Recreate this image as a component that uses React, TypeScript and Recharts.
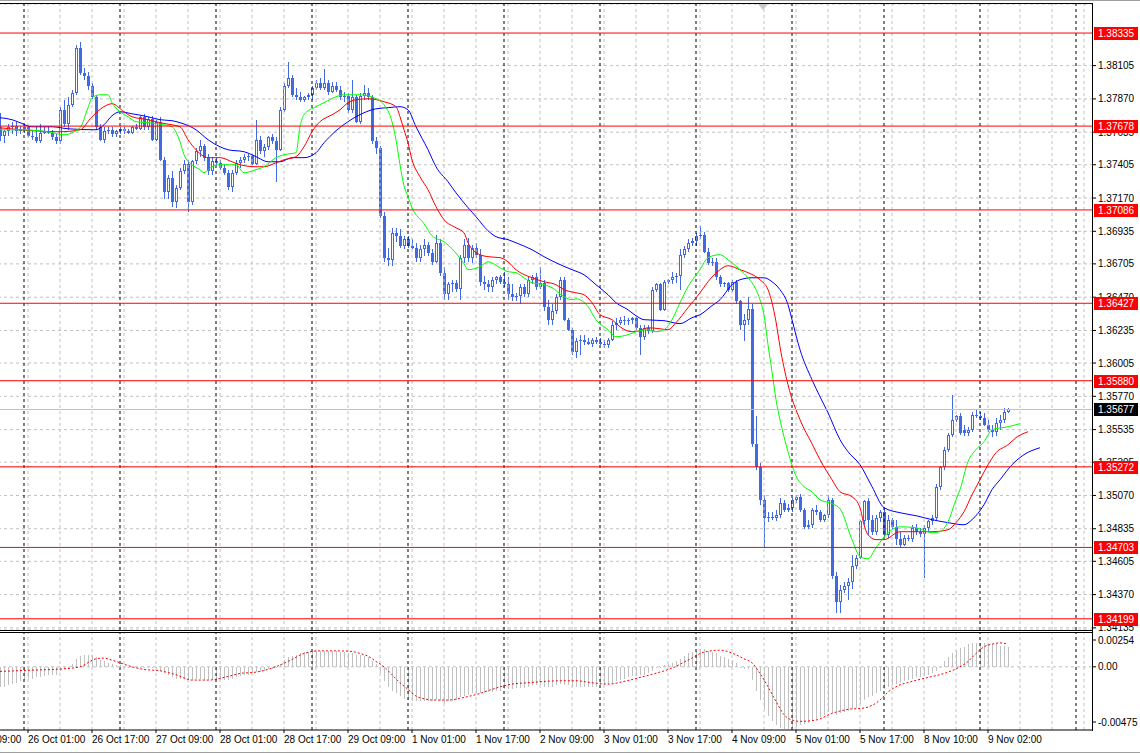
import React from 'react';
import { ComposedChart, Bar, Line, XAxis, YAxis, CartesianGrid, ReferenceLine } from 'recharts';

const FONT = 'Liberation Sans';
const BLUE = '#4169e1';
const AXIS_X = 1092;

// bar index range on the time axis (bars before 0 only carry the first time label)
const FIRST_BAR = -9;
const LAST_BAR = 272;

const timeLabels: [number, string][] = [
  [-9, '25 Oct 09:00'], [7, '26 Oct 01:00'], [23, '26 Oct 17:00'], [39, '27 Oct 09:00'],
  [55, '28 Oct 01:00'], [71, '28 Oct 17:00'], [87, '29 Oct 09:00'], [103, '1 Nov 01:00'],
  [119, '1 Nov 17:00'], [135, '2 Nov 09:00'], [151, '3 Nov 01:00'], [167, '3 Nov 17:00'],
  [183, '4 Nov 09:00'], [199, '5 Nov 01:00'], [215, '5 Nov 17:00'], [231, '8 Nov 10:00'],
  [247, '9 Nov 02:00'],
];
const daySeparators = [6, 30, 54, 78, 102, 126, 150, 174, 198, 221, 245, 269];

const priceTicks = [
  1.38105, 1.3787, 1.37635, 1.37405, 1.3717, 1.36935, 1.36705, 1.3647, 1.36235,
  1.36005, 1.3577, 1.35535, 1.35305, 1.3507, 1.34835, 1.34605, 1.3437, 1.34135,
];
const priceDomain = [1.3412, 1.3854];
const levels = [1.38335, 1.37678, 1.37086, 1.36427, 1.3588, 1.35272, 1.34703, 1.34199];
const lastPrice = 1.35677;
const macdTicks = [0.00254, 0, -0.00475];

// H1 candles: open, high, low, close
const candles: [number, number, number, number][] = [
  [1.3767, 1.3777, 1.3757, 1.3761], [1.3761, 1.3765, 1.3756, 1.3764], [1.3764, 1.3769, 1.3761, 1.3767], [1.3767, 1.3771, 1.3762, 1.3768],
  [1.3768, 1.3771, 1.3761, 1.3764], [1.3764, 1.3768, 1.3762, 1.3766], [1.3766, 1.3769, 1.3763, 1.3767], [1.3767, 1.3768, 1.3760, 1.3761],
  [1.3761, 1.3764, 1.3758, 1.3760], [1.3760, 1.3767, 1.3756, 1.3757], [1.3757, 1.3769, 1.3756, 1.3763], [1.3763, 1.3767, 1.3762, 1.3764],
  [1.3764, 1.3767, 1.3762, 1.3763], [1.3763, 1.3765, 1.3758, 1.3760], [1.3760, 1.3762, 1.3755, 1.3757], [1.3757, 1.3781, 1.3755, 1.3779],
  [1.3779, 1.3786, 1.3767, 1.3769], [1.3769, 1.3788, 1.3765, 1.3783], [1.3783, 1.3793, 1.3781, 1.3791], [1.3791, 1.3825, 1.3790, 1.3823],
  [1.3823, 1.3827, 1.3804, 1.3805], [1.3805, 1.3809, 1.3800, 1.3803], [1.3803, 1.3806, 1.3793, 1.3796], [1.3796, 1.3798, 1.3787, 1.3788],
  [1.3788, 1.3790, 1.3765, 1.3767], [1.3767, 1.3769, 1.3757, 1.3758], [1.3758, 1.3767, 1.3756, 1.3764], [1.3764, 1.3767, 1.3762, 1.3765],
  [1.3765, 1.3767, 1.3760, 1.3762], [1.3762, 1.3765, 1.3760, 1.3764], [1.3764, 1.3767, 1.3762, 1.3766], [1.3766, 1.3767, 1.3762, 1.3764],
  [1.3764, 1.3766, 1.3762, 1.3763], [1.3763, 1.3768, 1.3762, 1.3767], [1.3767, 1.3769, 1.3765, 1.3766], [1.3766, 1.3775, 1.3765, 1.3774],
  [1.3774, 1.3776, 1.3765, 1.3767], [1.3767, 1.3774, 1.3765, 1.3773], [1.3773, 1.3775, 1.3757, 1.3758], [1.3758, 1.3772, 1.3757, 1.3771],
  [1.3771, 1.3774, 1.3743, 1.3744], [1.3744, 1.3746, 1.3716, 1.3721], [1.3721, 1.3733, 1.3716, 1.3731], [1.3731, 1.3736, 1.3711, 1.3714],
  [1.3714, 1.3726, 1.3710, 1.3724], [1.3724, 1.3738, 1.3723, 1.3736], [1.3736, 1.3744, 1.3734, 1.3741], [1.3741, 1.3744, 1.3707, 1.3714],
  [1.3714, 1.3744, 1.3712, 1.3743], [1.3743, 1.3752, 1.3741, 1.3750], [1.3750, 1.3758, 1.3746, 1.3754], [1.3754, 1.3755, 1.3743, 1.3745],
  [1.3745, 1.3748, 1.3733, 1.3736], [1.3736, 1.3746, 1.3733, 1.3743], [1.3743, 1.3746, 1.3740, 1.3742], [1.3742, 1.3744, 1.3737, 1.3738],
  [1.3738, 1.3741, 1.3733, 1.3735], [1.3735, 1.3737, 1.3723, 1.3725], [1.3725, 1.3737, 1.3721, 1.3735], [1.3735, 1.3744, 1.3733, 1.3742],
  [1.3742, 1.3746, 1.3738, 1.3744], [1.3744, 1.3748, 1.3742, 1.3746], [1.3746, 1.3748, 1.3743, 1.3747], [1.3747, 1.3748, 1.3740, 1.3741],
  [1.3741, 1.3772, 1.3740, 1.3758], [1.3758, 1.3761, 1.3748, 1.3750], [1.3750, 1.3755, 1.3746, 1.3753], [1.3753, 1.3761, 1.3751, 1.3760],
  [1.3760, 1.3762, 1.3755, 1.3757], [1.3757, 1.3760, 1.3728, 1.3751], [1.3751, 1.3781, 1.3750, 1.3779], [1.3779, 1.3798, 1.3778, 1.3796],
  [1.3796, 1.3813, 1.3795, 1.3802], [1.3802, 1.3804, 1.3788, 1.3790], [1.3790, 1.3795, 1.3786, 1.3788], [1.3788, 1.3792, 1.3785, 1.3786],
  [1.3786, 1.3789, 1.3785, 1.3788], [1.3788, 1.3791, 1.3786, 1.3790], [1.3790, 1.3796, 1.3786, 1.3795], [1.3795, 1.3800, 1.3793, 1.3798],
  [1.3798, 1.3802, 1.3793, 1.3795], [1.3795, 1.3808, 1.3793, 1.3798], [1.3798, 1.3800, 1.3790, 1.3792], [1.3792, 1.3799, 1.3791, 1.3796],
  [1.3796, 1.3799, 1.3792, 1.3793], [1.3793, 1.3796, 1.3786, 1.3788], [1.3788, 1.3792, 1.3785, 1.3789], [1.3789, 1.3791, 1.3777, 1.3779],
  [1.3779, 1.3800, 1.3777, 1.3788], [1.3788, 1.3790, 1.3770, 1.3771], [1.3771, 1.3791, 1.3769, 1.3789], [1.3789, 1.3797, 1.3786, 1.3791],
  [1.3791, 1.3795, 1.3786, 1.3788], [1.3788, 1.3790, 1.3755, 1.3757], [1.3757, 1.3760, 1.3748, 1.3752], [1.3752, 1.3754, 1.3703, 1.3704],
  [1.3704, 1.3707, 1.3672, 1.3675], [1.3675, 1.3682, 1.3669, 1.3673], [1.3673, 1.3696, 1.3669, 1.3692], [1.3692, 1.3696, 1.3686, 1.3690],
  [1.3690, 1.3695, 1.3682, 1.3683], [1.3683, 1.3690, 1.3681, 1.3688], [1.3688, 1.3690, 1.3682, 1.3683], [1.3683, 1.3688, 1.3681, 1.3682],
  [1.3682, 1.3685, 1.3672, 1.3675], [1.3675, 1.3684, 1.3672, 1.3681], [1.3681, 1.3688, 1.3676, 1.3684], [1.3684, 1.3686, 1.3676, 1.3678],
  [1.3678, 1.3681, 1.3670, 1.3672], [1.3672, 1.3691, 1.3671, 1.3685], [1.3685, 1.3688, 1.3662, 1.3664], [1.3664, 1.3668, 1.3645, 1.3649],
  [1.3649, 1.3658, 1.3645, 1.3656], [1.3656, 1.3659, 1.3651, 1.3657], [1.3657, 1.3659, 1.3651, 1.3653], [1.3653, 1.3677, 1.3645, 1.3675],
  [1.3675, 1.3688, 1.3671, 1.3684], [1.3684, 1.3689, 1.3672, 1.3675], [1.3675, 1.3684, 1.3671, 1.3682], [1.3682, 1.3685, 1.3675, 1.3677],
  [1.3677, 1.3681, 1.3655, 1.3658], [1.3658, 1.3662, 1.3652, 1.3656], [1.3656, 1.3659, 1.3651, 1.3654], [1.3654, 1.3661, 1.3651, 1.3659],
  [1.3659, 1.3662, 1.3656, 1.3661], [1.3661, 1.3663, 1.3656, 1.3658], [1.3658, 1.3665, 1.3654, 1.3656], [1.3656, 1.3661, 1.3645, 1.3649],
  [1.3649, 1.3656, 1.3644, 1.3647], [1.3647, 1.3650, 1.3644, 1.3648], [1.3648, 1.3656, 1.3642, 1.3654], [1.3654, 1.3656, 1.3647, 1.3649],
  [1.3649, 1.3661, 1.3647, 1.3659], [1.3659, 1.3663, 1.3656, 1.3661], [1.3661, 1.3664, 1.3652, 1.3654], [1.3654, 1.3668, 1.3653, 1.3657],
  [1.3657, 1.3659, 1.3637, 1.3640], [1.3640, 1.3645, 1.3627, 1.3631], [1.3631, 1.3642, 1.3627, 1.3637], [1.3637, 1.3649, 1.3635, 1.3647],
  [1.3647, 1.3661, 1.3645, 1.3659], [1.3659, 1.3661, 1.3630, 1.3631], [1.3631, 1.3632, 1.3623, 1.3624], [1.3624, 1.3625, 1.3606, 1.3608],
  [1.3608, 1.3618, 1.3604, 1.3616], [1.3616, 1.3620, 1.3606, 1.3617], [1.3617, 1.3620, 1.3613, 1.3615], [1.3615, 1.3618, 1.3613, 1.3614],
  [1.3614, 1.3618, 1.3612, 1.3617], [1.3617, 1.3619, 1.3614, 1.3615], [1.3615, 1.3618, 1.3613, 1.3614], [1.3614, 1.3617, 1.3611, 1.3613],
  [1.3613, 1.3618, 1.3611, 1.3617], [1.3617, 1.3630, 1.3616, 1.3627], [1.3627, 1.3632, 1.3624, 1.3629], [1.3629, 1.3633, 1.3627, 1.3631],
  [1.3631, 1.3634, 1.3627, 1.3630], [1.3630, 1.3632, 1.3627, 1.3631], [1.3631, 1.3633, 1.3628, 1.3632], [1.3632, 1.3633, 1.3624, 1.3625],
  [1.3625, 1.3627, 1.3606, 1.3619], [1.3619, 1.3627, 1.3617, 1.3625], [1.3625, 1.3627, 1.3621, 1.3623], [1.3623, 1.3654, 1.3622, 1.3652],
  [1.3652, 1.3657, 1.3651, 1.3656], [1.3656, 1.3657, 1.3637, 1.3638], [1.3638, 1.3659, 1.3637, 1.3658], [1.3658, 1.3660, 1.3656, 1.3659],
  [1.3659, 1.3665, 1.3656, 1.3661], [1.3661, 1.3664, 1.3657, 1.3662], [1.3662, 1.3681, 1.3652, 1.3677], [1.3677, 1.3683, 1.3675, 1.3681],
  [1.3681, 1.3688, 1.3679, 1.3685], [1.3685, 1.3689, 1.3683, 1.3687], [1.3687, 1.3692, 1.3683, 1.3690], [1.3690, 1.3697, 1.3688, 1.3691],
  [1.3691, 1.3693, 1.3678, 1.3679], [1.3679, 1.3682, 1.3670, 1.3671], [1.3671, 1.3675, 1.3669, 1.3672], [1.3672, 1.3675, 1.3659, 1.3661],
  [1.3661, 1.3663, 1.3654, 1.3656], [1.3656, 1.3658, 1.3654, 1.3657], [1.3657, 1.3658, 1.3651, 1.3652], [1.3652, 1.3659, 1.3651, 1.3658],
  [1.3658, 1.3659, 1.3642, 1.3644], [1.3644, 1.3645, 1.3624, 1.3627], [1.3627, 1.3635, 1.3616, 1.3631], [1.3631, 1.3647, 1.3627, 1.3639],
  [1.3639, 1.3642, 1.3541, 1.3543], [1.3543, 1.3563, 1.3525, 1.3527], [1.3527, 1.3530, 1.3500, 1.3504], [1.3504, 1.3507, 1.3470, 1.3491],
  [1.3491, 1.3495, 1.3488, 1.3492], [1.3492, 1.3495, 1.3490, 1.3491], [1.3491, 1.3497, 1.3489, 1.3493], [1.3493, 1.3505, 1.3491, 1.3502],
  [1.3502, 1.3504, 1.3495, 1.3497], [1.3497, 1.3501, 1.3495, 1.3498], [1.3498, 1.3505, 1.3495, 1.3504], [1.3504, 1.3507, 1.3502, 1.3506],
  [1.3506, 1.3508, 1.3495, 1.3497], [1.3497, 1.3498, 1.3483, 1.3485], [1.3485, 1.3490, 1.3483, 1.3486], [1.3486, 1.3498, 1.3484, 1.3497],
  [1.3497, 1.3500, 1.3493, 1.3495], [1.3495, 1.3497, 1.3488, 1.3490], [1.3490, 1.3494, 1.3488, 1.3493], [1.3493, 1.3507, 1.3491, 1.3504],
  [1.3504, 1.3505, 1.3448, 1.3450], [1.3450, 1.3453, 1.3424, 1.3432], [1.3432, 1.3444, 1.3424, 1.3440], [1.3440, 1.3446, 1.3438, 1.3443],
  [1.3443, 1.3449, 1.3433, 1.3446], [1.3446, 1.3465, 1.3441, 1.3457], [1.3457, 1.3465, 1.3455, 1.3463], [1.3463, 1.3490, 1.3462, 1.3489],
  [1.3489, 1.3504, 1.3486, 1.3503], [1.3503, 1.3505, 1.3479, 1.3490], [1.3490, 1.3493, 1.3479, 1.3481], [1.3481, 1.3493, 1.3479, 1.3491],
  [1.3491, 1.3497, 1.3488, 1.3495], [1.3495, 1.3498, 1.3478, 1.3479], [1.3479, 1.3493, 1.3477, 1.3490], [1.3490, 1.3491, 1.3483, 1.3485],
  [1.3485, 1.3490, 1.3472, 1.3476], [1.3476, 1.3481, 1.3470, 1.3472], [1.3472, 1.3479, 1.3471, 1.3477], [1.3477, 1.3479, 1.3475, 1.3476],
  [1.3476, 1.3486, 1.3474, 1.3484], [1.3484, 1.3487, 1.3479, 1.3481], [1.3481, 1.3484, 1.3478, 1.3480], [1.3480, 1.3486, 1.3449, 1.3484],
  [1.3484, 1.3490, 1.3482, 1.3489], [1.3489, 1.3493, 1.3486, 1.3491], [1.3491, 1.3515, 1.3490, 1.3513], [1.3513, 1.3528, 1.3511, 1.3527],
  [1.3527, 1.3541, 1.3525, 1.3539], [1.3539, 1.3551, 1.3538, 1.3550], [1.3550, 1.3578, 1.3548, 1.3560], [1.3560, 1.3564, 1.3559, 1.3563],
  [1.3563, 1.3565, 1.3550, 1.3551], [1.3553, 1.3557, 1.3549, 1.3551], [1.3551, 1.3555, 1.3549, 1.3553], [1.3553, 1.3566, 1.3552, 1.3564],
  [1.3564, 1.3568, 1.3562, 1.3563], [1.3563, 1.3566, 1.3560, 1.3562], [1.3562, 1.3565, 1.3556, 1.3557], [1.3557, 1.3560, 1.3552, 1.3553],
  [1.3553, 1.3557, 1.3548, 1.3552], [1.3552, 1.3562, 1.3549, 1.3558], [1.3558, 1.3564, 1.3553, 1.3560], [1.3560, 1.3569, 1.3558, 1.3566],
  [1.3566, 1.3569, 1.3565, 1.35677],
];

// Alligator lines (already shifted), read at sample bars: [bar, price]
const lips: [number, number][] = [
  [0, 1.37652], [5, 1.37652], [12, 1.37638], [16, 1.37617], [20, 1.37666], [22, 1.37808], [23, 1.37878], [25, 1.37899],
  [27, 1.37899], [28, 1.37843], [30, 1.37779], [32, 1.37744], [34, 1.37709], [37, 1.37702], [41, 1.37687], [43, 1.37673],
  [45, 1.37567], [46, 1.37476], [48, 1.37405], [50, 1.3737], [51, 1.37349], [53, 1.37391], [55, 1.37405], [59, 1.37405],
  [61, 1.37349], [64, 1.3737], [66, 1.37391], [69, 1.37455], [71, 1.37476], [74, 1.3749], [75, 1.37673], [76, 1.37758],
  [79, 1.37815], [81, 1.37843], [84, 1.37885], [86, 1.37899], [90, 1.37899], [94, 1.37871], [96, 1.37829], [98, 1.37709],
  [99, 1.37582], [100, 1.37405], [101, 1.37257], [102, 1.37179], [103, 1.37102], [106, 1.36989], [108, 1.36904], [111, 1.36861],
  [113, 1.36812], [116, 1.36706], [117, 1.36664], [120, 1.36685], [122, 1.3672], [125, 1.36678], [127, 1.3665], [129, 1.36643],
  [131, 1.36607], [133, 1.36572], [136, 1.36558], [138, 1.36537], [141, 1.36473], [143, 1.36452], [144, 1.36459], [147, 1.36403],
  [149, 1.36311], [152, 1.3624], [154, 1.36191], [157, 1.36205], [159, 1.36226], [162, 1.3624], [164, 1.36226], [166, 1.3624],
  [168, 1.36311], [170, 1.36431], [172, 1.36544], [175, 1.36664], [177, 1.36749], [180, 1.3677], [182, 1.36734], [185, 1.36664],
  [187, 1.36607], [189, 1.36523], [190, 1.36452], [191, 1.36346], [192, 1.36134], [193, 1.35944], [194, 1.35746], [195, 1.35605],
  [197, 1.35379], [199, 1.35209], [201, 1.35132], [203, 1.35096], [205, 1.3504], [208, 1.35012], [210, 1.34976], [213, 1.34758],
  [215, 1.34638], [217, 1.34623], [219, 1.34701], [222, 1.34807], [225, 1.34849], [229, 1.34842], [233, 1.34807], [235, 1.34814],
  [237, 1.34885], [239, 1.3504], [240, 1.35111], [242, 1.35308], [244, 1.35393], [246, 1.35449], [248, 1.35534], [252, 1.35555],
  [255, 1.35577],
];
const teeth: [number, number][] = [
  [0, 1.37666], [5, 1.37652], [15, 1.37638], [20, 1.37652], [23, 1.37744], [26, 1.37815], [28, 1.37836], [31, 1.37779],
  [33, 1.37744], [37, 1.37723], [40, 1.37702], [43, 1.37687], [45, 1.37673], [47, 1.37582], [49, 1.37511], [52, 1.37455],
  [55, 1.37455], [58, 1.37426], [60, 1.37405], [64, 1.37391], [66, 1.37391], [69, 1.37419], [71, 1.3744], [74, 1.37462],
  [76, 1.37532], [78, 1.37638], [80, 1.37709], [83, 1.37758], [85, 1.37793], [87, 1.37843], [89, 1.37864], [92, 1.37871],
  [96, 1.3785], [99, 1.37815], [100, 1.37744], [101, 1.37652], [102, 1.3756], [103, 1.3744], [105, 1.3732], [107, 1.37229],
  [109, 1.37109], [111, 1.37017], [114, 1.3696], [116, 1.36925], [117, 1.36854], [120, 1.3677], [122, 1.36756], [125, 1.36749],
  [127, 1.3672], [129, 1.36664], [133, 1.36607], [136, 1.36579], [139, 1.36558], [141, 1.36523], [144, 1.36501], [146, 1.36487],
  [148, 1.36431], [150, 1.36346], [153, 1.36311], [155, 1.36261], [158, 1.36226], [160, 1.36233], [162, 1.36254], [165, 1.36247],
  [167, 1.3624], [169, 1.3629], [172, 1.36396], [175, 1.36501], [177, 1.36579], [180, 1.36664], [182, 1.36692], [185, 1.36664],
  [187, 1.36643], [190, 1.36593], [192, 1.36523], [194, 1.36297], [195, 1.3612], [197, 1.35852], [200, 1.35605], [203, 1.35435],
  [205, 1.35322], [208, 1.35181], [210, 1.35096], [213, 1.35061], [215, 1.34984], [216, 1.34863], [217, 1.34793], [219, 1.34758],
  [221, 1.34758], [225, 1.34814], [229, 1.34814], [233, 1.34814], [237, 1.34828], [239, 1.34878], [241, 1.34955], [243, 1.35075],
  [245, 1.35181], [247, 1.35287], [249, 1.35372], [252, 1.35428], [254, 1.35478], [257, 1.3552],
];
const jaw: [number, number][] = [
  [0, 1.37737], [3, 1.37723], [5, 1.37702], [8, 1.37673], [13, 1.37673], [17, 1.37659], [24, 1.37652], [26, 1.37687],
  [28, 1.37751], [30, 1.37779], [33, 1.37765], [37, 1.37744], [40, 1.37723], [43, 1.37716], [45, 1.37702], [49, 1.37652],
  [52, 1.37582], [55, 1.37532], [57, 1.37511], [61, 1.37497], [64, 1.37462], [67, 1.37426], [70, 1.37426], [73, 1.37455],
  [76, 1.37455], [79, 1.3749], [81, 1.3756], [84, 1.37645], [87, 1.37709], [91, 1.37772], [94, 1.378], [97, 1.37808],
  [100, 1.37815], [102, 1.37793], [104, 1.37673], [107, 1.37511], [109, 1.37391], [112, 1.37285], [114, 1.37207], [117, 1.37102],
  [119, 1.37038], [122, 1.36939], [124, 1.36897], [127, 1.36876], [129, 1.36854], [133, 1.36805], [136, 1.36756], [139, 1.36713],
  [143, 1.36664], [146, 1.36628], [149, 1.36558], [152, 1.36487], [154, 1.36431], [157, 1.36381], [159, 1.36339], [161, 1.36311],
  [166, 1.36304], [170, 1.36283], [173, 1.36325], [175, 1.36346], [178, 1.3641], [180, 1.36452], [183, 1.36558], [185, 1.36593],
  [188, 1.36607], [191, 1.36607], [193, 1.36579], [195, 1.36523], [197, 1.36417], [198, 1.36311], [200, 1.36099], [203, 1.35887],
  [205, 1.35767], [207, 1.35654], [210, 1.35464], [212, 1.35379], [215, 1.35287], [218, 1.35132], [221, 1.34984], [225, 1.34948],
  [229, 1.34927], [233, 1.34899], [237, 1.34878], [241, 1.34863], [243, 1.34899], [246, 1.35005], [248, 1.35111], [250, 1.35181],
  [253, 1.35287], [256, 1.35358], [260, 1.35407],
];

// MACD main (histogram), one value per candle
const macdMain = [
  -0.00015, -0.00015, -0.00014, -0.00013, -0.00012, -0.00011, -0.0001, -0.00009, -0.00009, -0.00008,
  -0.00008, -0.00007, -0.00006, -0.00006, -0.00006, -0.00003, -0.00002, 0, 0.00002, 0.00006,
  0.00008, 0.00009, 0.00009, 0.00009, 0.00007, 0.00005, 0.00004, 0.00003, 0.00002, 0.00001,
  0.00001, 0, 0, -0.00001, -0.00001, 0, 0, 0, -0.00001, -0.00001,
  -0.00003, -0.00005, -0.00006, -0.00008, -0.00009, -0.00009, -0.00009, -0.0001, -0.0001, -0.00009,
  -0.00009, -0.0001, -0.0001, -0.0001, -0.0001, -0.0001, -0.0001, -0.0001, -0.00009, -0.00008,
  -0.00007, -0.00006, -0.00006, -0.00005, -0.00004, -0.00004, -0.00003, -0.00002, -0.00002, -0.00001,
  0.00002, 0.00005, 0.00007, 0.00008, 0.00009, 0.0001, 0.00011, 0.00011, 0.00012, 0.00012,
  0.00012, 0.00012, 0.00012, 0.00012, 0.00012, 0.00011, 0.00011, 0.0001, 0.0001, 0.00009,
  0.00009, 0.00008, 0.00007, 0.00004, 0.00002, -0.00005, -0.00011, -0.00015, -0.00018, -0.0002,
  -0.00022, -0.00024, -0.00025, -0.00026, -0.00026, -0.00026, -0.00026, -0.00026, -0.00026, -0.00025,
  -0.00026, -0.00027, -0.00026, -0.00026, -0.00025, -0.00023, -0.00022, -0.00021, -0.0002, -0.0002,
  -0.0002, -0.0002, -0.00019, -0.00019, -0.00018, -0.00018, -0.00017, -0.00017, -0.00017, -0.00016,
  -0.00016, -0.00016, -0.00015, -0.00014, -0.00014, -0.00014, -0.00015, -0.00015, -0.00015, -0.00014,
  -0.00013, -0.00014, -0.00014, -0.00015, -0.00015, -0.00015, -0.00015, -0.00015, -0.00015, -0.00015,
  -0.00014, -0.00014, -0.00013, -0.00012, -0.00011, -0.0001, -0.00009, -0.00008, -0.00007, -0.00007,
  -0.00006, -0.00006, -0.00005, -0.00003, -0.00001, -0.00001, 0.00001, 0.00002, 0.00003, 0.00004,
  0.00006, 0.00008, 0.0001, 0.00011, 0.00012, 0.00013, 0.00013, 0.00012, 0.00011, 0.0001,
  0.00008, 0.00007, 0.00006, 0.00005, 0.00003, 0, -0.00002, -0.00002, -0.0001, -0.00018,
  -0.00025, -0.00032, -0.00037, -0.00041, -0.00044, -0.00046, -0.00047, -0.00047, -0.00046, -0.00045,
  -0.00044, -0.00043, -0.00042, -0.0004, -0.00039, -0.00038, -0.00036, -0.00034, -0.00035, -0.00036,
  -0.00035, -0.00034, -0.00033, -0.00032, -0.00031, -0.00028, -0.00025, -0.00023, -0.00022, -0.0002,
  -0.00018, -0.00017, -0.00015, -0.00014, -0.00013, -0.00012, -0.00011, -0.0001, -0.00009, -0.00008,
  -0.00008, -0.00007, -0.00006, -0.00005, -0.00003, 0, 0.00004, 0.00007, 0.0001, 0.00012,
  0.00014, 0.00015, 0.00017, 0.00018, 0.00018, 0.00018, 0.00018, 0.00018, 0.00017, 0.00017,
  0.00016, 0.00016, 0.00015,
].map((v) => v * 10);

// MACD signal, read at sample bars: [bar, value]
const macdSignal: [number, number][] = [
  [0, -0.00035], [8, -0.00025], [16, -0.00015], [20, 0], [24, 0.0006], [26, 0.00065], [28, 0.0005], [30, 0.0003],
  [33, 0], [36, -0.0002], [40, -0.0003], [44, -0.0006], [48, -0.001], [52, -0.001], [56, -0.0008], [60, -0.0005],
  [64, -0.0004], [68, -0.0001], [72, 0.0004], [76, 0.001], [80, 0.0012], [84, 0.0012], [88, 0.00115], [90, 0.001],
  [92, 0.0008], [94, 0.0004], [96, 0], [98, -0.0006], [100, -0.0012], [102, -0.0017], [104, -0.0022], [106, -0.0024],
  [108, -0.0025], [112, -0.0025], [116, -0.0023], [120, -0.002], [124, -0.0016], [128, -0.0013], [132, -0.0012], [136, -0.0011],
  [140, -0.00105], [144, -0.00105], [148, -0.0012], [152, -0.0013], [156, -0.0011], [160, -0.0008], [164, -0.00048], [168, -0.0001],
  [172, 0.0005], [176, 0.0011], [180, 0.00125], [184, 0.0009], [186, 0.0006], [188, 0.0003], [190, -0.0005], [192, -0.0015],
  [194, -0.0026], [196, -0.0036], [198, -0.004], [200, -0.0041], [204, -0.004], [208, -0.0035], [212, -0.0032], [216, -0.0031],
  [220, -0.0025], [222, -0.0019], [224, -0.0015], [228, -0.0011], [232, -0.0008], [236, -0.0005], [240, 0], [242, 0.0004],
  [244, 0.001], [246, 0.0015], [248, 0.0017], [250, 0.0018], [252, 0.0017],
];

type Row = { k: number; [key: string]: any };
const rows: Row[] = [];
for (let k = FIRST_BAR; k <= LAST_BAR; k++) rows.push({ k });
const at = (i: number) => rows[i - FIRST_BAR];
candles.forEach(([o, h, l, c], i) => Object.assign(at(i), { o, h, l, c, range: [l, h], macd: macdMain[i] }));
lips.forEach(([i, v]) => (at(i).lips = v));
teeth.forEach(([i, v]) => (at(i).teeth = v));
jaw.forEach(([i, v]) => (at(i).jaw = v));
macdSignal.forEach(([i, v]) => (at(i).signal = v));

const gridBars: number[] = [];
for (let k = FIRST_BAR; k <= LAST_BAR; k += 8) gridBars.push(k);
const labelBars = timeLabels.map(([k]) => k);
const labelText = new Map(timeLabels);

const renderCandle = (props: any) => {
  const { x, y, width, height, payload } = props;
  if (!payload || payload.o == null || !Number.isFinite(y)) return <g />;
  const { o, h, l, c } = payload;
  const top = Math.min(y, y + height);
  const bot = Math.max(y, y + height);
  const k = h === l ? 0 : (bot - top) / (h - l);
  const py = (v: number) => Math.round(top + (h - v) * k);
  const cx = Math.round(x + width / 2);
  const yo = py(o);
  const yc = py(c);
  const bTop = Math.min(yo, yc);
  const bBot = Math.max(yo, yc);
  const up = c > o;
  return (
    <g shapeRendering="crispEdges">
      <rect x={cx} y={Math.round(top)} width={1} height={Math.max(1, Math.round(bot) - Math.round(top))} fill={BLUE} />
      {up && bBot - bTop > 1 ? (
        <rect x={cx - 0.5} y={bTop + 0.5} width={2} height={bBot - bTop - 1} fill="#fff" stroke={BLUE} strokeWidth={1} />
      ) : (
        <rect x={cx - 1} y={bTop} width={3} height={Math.max(1, bBot - bTop)} fill={BLUE} />
      )}
    </g>
  );
};

const renderHist = (props: any) => {
  const { x, y, width, height } = props;
  if (!Number.isFinite(y) || !Number.isFinite(height)) return <g />;
  const cx = Math.round(x + width / 2);
  const t = Math.round(Math.min(y, y + height));
  const b = Math.round(Math.max(y, y + height));
  return <rect x={cx} y={t} width={1} height={Math.max(1, b - t)} fill="#c0c0c0" shapeRendering="crispEdges" />;
};

const PriceTag = (props: any) => {
  const { viewBox, text, bg } = props;
  if (!viewBox) return null;
  const y = Math.round(viewBox.y);
  return (
    <g>
      <rect x={AXIS_X + 2} y={y - 6} width={44} height={13} fill={bg} />
      <text x={AXIS_X + 6} y={y + 4} fill="#fff" fontSize={10} fontFamily={FONT}>{text}</text>
    </g>
  );
};

const TimeTick = (props: any) => {
  const { x, y, payload } = props;
  return (
    <text x={x} y={y} dy="0.71em" textAnchor="start" fontSize={10} fontFamily={FONT} fill="#000">
      {labelText.get(payload.value)}
    </text>
  );
};

const MacdTick = (props: any) => {
  const { x, y, payload } = props;
  const v = payload.value as number;
  const dy = v > 0 ? 7 : v < 0 ? -8 : 0;
  return (
    <g>
      <line x1={AXIS_X} x2={AXIS_X + 4} y1={y + dy} y2={y + dy} stroke="#000" />
      <text x={x} y={y + dy} dy="0.355em" fontSize={10} fontFamily={FONT} fill="#000">
        {v === 0 ? '0.00' : v.toFixed(5)}
      </text>
    </g>
  );
};

const timeGrid = (prefix: string) => [
  ...gridBars.map((k) => (
    <ReferenceLine key={prefix + 'g' + k} x={k} stroke="#c0c0c0" strokeDasharray="3 3" />
  )),
  ...daySeparators.map((k) => (
    <ReferenceLine key={prefix + 'd' + k} x={k} stroke="#000" strokeDasharray="3 3" />
  )),
];

const line = (left: number, top: number, width: number, height: number, color = '#000') => (
  <div style={{ position: 'absolute', left, top, width, height, background: color }} />
);

const mainMargin = { top: 4, right: 0, bottom: 10, left: -38 };

export default function App() {
  return (
    <div style={{ position: 'fixed', left: 0, top: 0, width: 1140, height: 754, background: '#fff', overflow: 'hidden', fontFamily: FONT }}>
      <div style={{ position: 'absolute', left: 0, top: 0 }}>
        <ComposedChart width={1140} height={640} data={rows} margin={mainMargin}>
          <CartesianGrid vertical={false} stroke="#c0c0c0" strokeDasharray="3 3" />
          <XAxis dataKey="k" type="category" allowDuplicatedCategory={false} hide padding={{ left: 0, right: 2 }} />
          <YAxis
            orientation="right"
            type="number"
            width={48}
            domain={priceDomain}
            allowDataOverflow
            ticks={priceTicks}
            interval={0}
            axisLine={false}
            tickLine={{ stroke: '#000' }}
            tickSize={4}
            tickMargin={2}
            tick={{ fill: '#000', fontSize: 10, fontFamily: FONT }}
            tickFormatter={(v: number) => v.toFixed(5)}
          />
          {timeGrid('m')}
          <Bar dataKey="range" shape={renderCandle} isAnimationActive={false} />
          <Line dataKey="jaw" type="monotone" stroke="#0000ff" strokeWidth={1} dot={false} activeDot={false} connectNulls isAnimationActive={false} />
          <Line dataKey="teeth" type="monotone" stroke="#ff0000" strokeWidth={1} dot={false} activeDot={false} connectNulls isAnimationActive={false} />
          <Line dataKey="lips" type="monotone" stroke="#00ff00" strokeWidth={1} dot={false} activeDot={false} connectNulls isAnimationActive={false} />
        </ComposedChart>
      </div>
      {/* price levels and their tags sit on top of the candles and the axis labels */}
      <div style={{ position: 'absolute', left: 0, top: 0 }}>
        <ComposedChart width={1140} height={640} data={rows} margin={mainMargin}>
          <XAxis dataKey="k" type="category" allowDuplicatedCategory={false} hide padding={{ left: 0, right: 2 }} />
          <YAxis orientation="right" type="number" width={48} domain={priceDomain} allowDataOverflow axisLine={false} tickLine={false} tick={false} />
          <ReferenceLine y={lastPrice} stroke="#c0c0c0" label={<PriceTag text={lastPrice.toFixed(5)} bg="#000" />} />
          {levels.map((v) => (
            <ReferenceLine key={v} y={v} stroke="#ff0000" label={<PriceTag text={v.toFixed(5)} bg="#ff0000" />} />
          ))}
        </ComposedChart>
      </div>
      <div style={{ position: 'absolute', left: 0, top: 631 }}>
        <ComposedChart width={1140} height={123} data={rows} margin={{ top: 2, right: 0, bottom: 4, left: -38 }}>
          <XAxis
            dataKey="k"
            type="category"
            allowDuplicatedCategory={false}
            padding={{ left: 0, right: 2 }}
            height={20}
            ticks={labelBars}
            interval={0}
            axisLine={{ stroke: '#000' }}
            tickLine={{ stroke: '#000' }}
            tickSize={3}
            tickMargin={3}
            tick={<TimeTick />}
          />
          <YAxis
            orientation="right"
            type="number"
            width={48}
            domain={[-0.00475, 0.00254]}
            allowDataOverflow
            ticks={macdTicks}
            interval={0}
            axisLine={false}
            tickLine={false}
            tickSize={0}
            tickMargin={6}
            tick={<MacdTick />}
          />
          {timeGrid('s')}
          <ReferenceLine y={0} stroke="#c0c0c0" strokeDasharray="3 3" />
          <Bar dataKey="macd" shape={renderHist} isAnimationActive={false} />
          <Line dataKey="signal" type="monotone" stroke="#ff0000" strokeWidth={1} strokeDasharray="2 2" dot={false} activeDot={false} connectNulls isAnimationActive={false} />
        </ComposedChart>
      </div>
      {line(0, 0, 1140, 1, '#a0a0a0')}
      {line(0, 3, AXIS_X, 1)}
      {line(0, 630, AXIS_X, 1)}
      {line(0, 632, AXIS_X, 1)}
      {line(AXIS_X, 3, 1, 728)}
      {line(0, 752, 1140, 1, '#a0a0a0')}
      <div style={{ position: 'absolute', left: 758, top: 4, width: 0, height: 0, borderLeft: '5px solid transparent', borderRight: '5px solid transparent', borderTop: '6px solid #c8c8c8' }} />
    </div>
  );
}
